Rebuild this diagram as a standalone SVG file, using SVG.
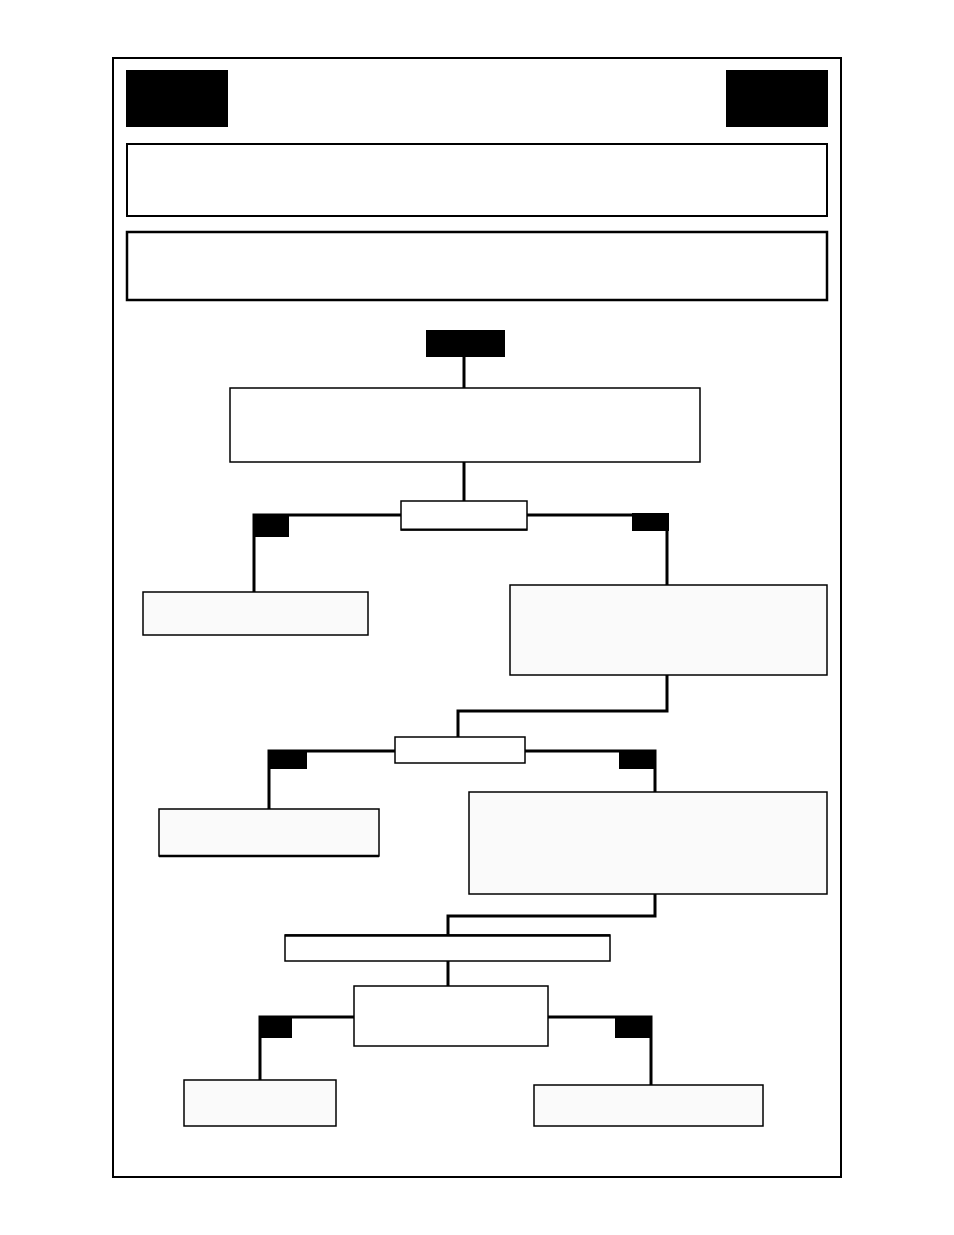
<svg xmlns="http://www.w3.org/2000/svg" width="954" height="1235" viewBox="0 0 954 1235">
<style>
.box{fill:#ffffff;stroke:#000;stroke-width:1.5}
.soft{fill:#fafafa;stroke:#000;stroke-width:1.5}
.tab{fill:#000}
.wire{fill:none;stroke:#000;stroke-width:3}
</style>
<rect width="954" height="1235" fill="#fff"/>
<rect x="113" y="58" width="728" height="1119" fill="none" stroke="#000" stroke-width="2"/>
<g id="connectors">
<path class="wire" d="M464,357 V389"/>
<path class="wire" d="M464,462 V502"/>
<path class="wire" d="M401,515 H254 V592"/>
<path class="wire" d="M527,515 H667 V585"/>
<path class="wire" d="M667,675 V711 H458 V737"/>
<path class="wire" d="M395,751 H269 V809"/>
<path class="wire" d="M525,751 H655 V792"/>
<path class="wire" d="M655,894 V916 H448 V935"/>
<path class="wire" d="M448,961 V986"/>
<path class="wire" d="M354,1017 H260 V1080"/>
<path class="wire" d="M548,1017 H651 V1085"/>
<rect class="tab" x="254" y="515" width="35" height="22"/>
<rect class="tab" x="632" y="513" width="37" height="18"/>
<rect class="tab" x="269" y="751" width="38" height="18"/>
<rect class="tab" x="619" y="751" width="37" height="18"/>
<rect class="tab" x="260" y="1017" width="32" height="21"/>
<rect class="tab" x="615" y="1017" width="37" height="21"/>
</g>
<g id="hdr-left"><rect class="tab" x="126" y="70" width="102" height="57"/></g>
<g id="hdr-right"><rect class="tab" x="726" y="70" width="102" height="57"/></g>
<g id="banner1"><rect x="127" y="144" width="700" height="72" fill="#fff" stroke="#000" stroke-width="2"/></g>
<g id="banner2"><rect x="127" y="232" width="700" height="68" fill="#fff" stroke="#000" stroke-width="2.5"/></g>
<g id="start"><rect class="tab" x="426" y="330" width="79" height="27"/></g>
<g id="stepA"><rect class="box" x="230" y="388" width="470" height="74"/></g>
<g id="dec1"><rect class="box" x="401" y="501" width="126" height="29"/><path d="M401,529.5 H527" stroke="#000" stroke-width="2"/></g>
<g id="left1"><rect class="soft" x="143" y="592" width="225" height="43"/></g>
<g id="right1"><rect class="soft" x="510" y="585" width="317" height="90"/></g>
<g id="dec2"><rect class="box" x="395" y="737" width="130" height="26"/></g>
<g id="left2"><rect class="soft" x="159" y="809" width="220" height="47"/><path d="M159,856 H379" stroke="#000" stroke-width="2.5"/></g>
<g id="right2"><rect class="soft" x="469" y="792" width="358" height="102"/></g>
<g id="wide"><rect class="box" x="285" y="935" width="325" height="26"/><path d="M285,935.5 H610" stroke="#000" stroke-width="2.5"/></g>
<g id="dec3"><rect class="box" x="354" y="986" width="194" height="60"/></g>
<g id="left3"><rect class="soft" x="184" y="1080" width="152" height="46"/></g>
<g id="right3"><rect class="soft" x="534" y="1085" width="229" height="41"/></g>
</svg>
